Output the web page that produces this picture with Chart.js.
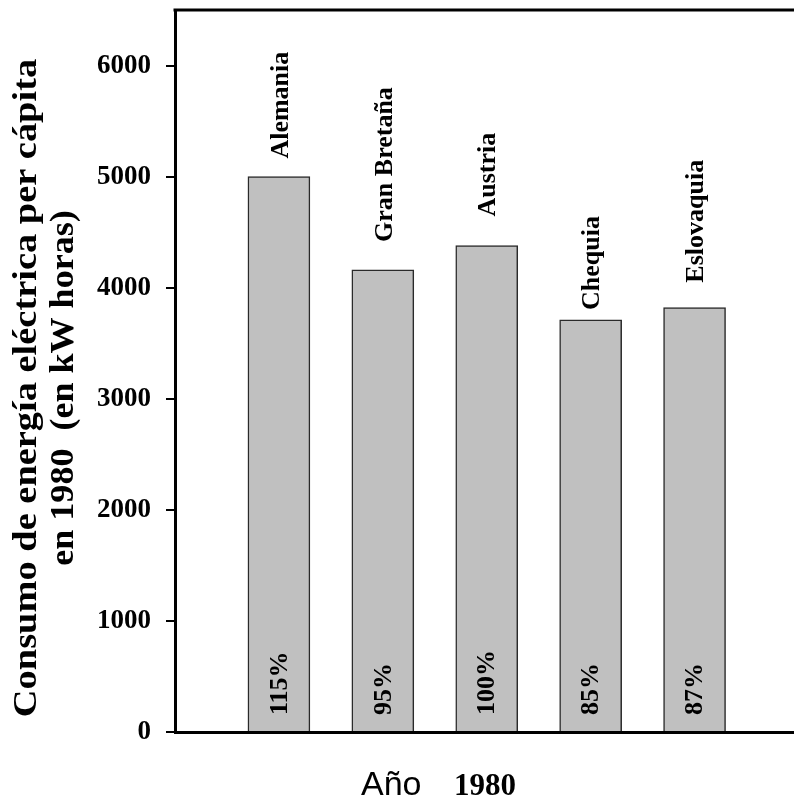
<!DOCTYPE html>
<html><head><meta charset="utf-8">
<script src="https://cdn.jsdelivr.net/npm/chart.js@4"></script>
<style>html,body{margin:0;padding:0;background:#fff}#wrap{width:794px;height:797px}</style>
</head><body><div id="wrap"><canvas id="c" width="794" height="797"></canvas></div>
<script>
const categories = ['Alemania', 'Gran Bretaña', 'Austria', 'Chequia', 'Eslovaquia'];
const consumo = [5000, 4160, 4380, 3710, 3820];
const porcentajes = ['115%', '95%', '100%', '85%', '87%'];
const yTickValues = [0, 1000, 2000, 3000, 4000, 5000, 6000];
const yTitle = ['Consumo de energía eléctrica per cápita', 'en 1980  (en kW horas)'];
const xTitleWord = 'Año';
const xTitleYear = '1980';

const serif = '"Liberation Serif", "Times New Roman", serif';
const sans = '"Liberation Sans", Arial, sans-serif';

const barLabels = {
  id: 'barLabels',
  afterDatasetsDraw(chart, args, opts) {
    const ctx = chart.ctx;
    const meta = chart.getDatasetMeta(0);
    const y0 = chart.scales.y.getPixelForValue(0);
    ctx.save();
    ctx.fillStyle = '#000';
    ctx.font = 'bold 26px ' + serif;
    ctx.textBaseline = 'middle';
    ctx.textAlign = 'left';
    meta.data.forEach((bar, i) => {
      ctx.save();
      ctx.translate(bar.x + 2, bar.y - opts.gaps[i]);
      ctx.rotate(-Math.PI / 2);
      ctx.fillText(categories[i], 0, 0);
      ctx.restore();
      ctx.save();
      ctx.translate(bar.x + 1, y0 - 17);
      ctx.rotate(-Math.PI / 2);
      ctx.fillText(porcentajes[i], 0, 0);
      ctx.restore();
    });
    ctx.restore();
  }
};

const frameAndTitles = {
  id: 'frameAndTitles',
  afterDraw(chart) {
    const ctx = chart.ctx;
    const a = chart.chartArea;
    ctx.save();
    ctx.strokeStyle = '#000';
    ctx.lineWidth = 3;
    ctx.beginPath();
    ctx.moveTo(a.left - 1.5, a.top);
    ctx.lineTo(chart.width, a.top);
    ctx.stroke();
    ctx.fillStyle = '#000';
    ctx.font = 'bold 34px ' + serif;
    ctx.textAlign = 'center';
    ctx.textBaseline = 'alphabetic';
    const cy = 388;
    [[36, yTitle[0], 1.13], [73, yTitle[1], 1.06]].forEach(([x, t, sx]) => {
      ctx.save();
      ctx.translate(x, cy);
      ctx.rotate(-Math.PI / 2);
      ctx.scale(sx, 1);
      ctx.fillText(t, 0, 0);
      ctx.restore();
    });
    ctx.textAlign = 'left';
    ctx.font = '34px ' + sans;
    ctx.fillText(xTitleWord, 361, 795);
    ctx.font = 'bold 31px ' + serif;
    ctx.fillText(xTitleYear, 454, 795);
    ctx.restore();
  }
};

new Chart(document.getElementById('c'), {
  type: 'bar',
  data: {
    datasets: [{
      data: categories.map((c, i) => ({ x: i, y: consumo[i] })),
      backgroundColor: '#c0c0c0',
      borderColor: '#2a2a2a',
      borderWidth: 1.5,
      barThickness: 62
    }]
  },
  options: {
    responsive: false,
    animation: false,
    devicePixelRatio: 1,
    layout: { padding: { top: 10, left: 0, right: 0, bottom: 0 } },
    plugins: {
      legend: { display: false },
      tooltip: { enabled: false },
      barLabels: { gaps: [18, 28, 29, 10, 25] }
    },
    scales: {
      x: {
        type: 'linear', min: -1, max: 4.957, offset: false,
        ticks: { display: false },
        grid: { display: true, drawOnChartArea: false, drawTicks: false },
        border: { display: true, color: '#000', width: 3 },
        afterFit(s) { s.height = 65; s.paddingLeft = 0; s.paddingRight = 0; }
      },
      y: {
        min: 0, max: 6500,
        afterBuildTicks(s) { s.ticks = yTickValues.map(v => ({ value: v })); },
        ticks: { color: '#000', padding: 15, callback: v => String(v),
                 font: { family: serif, size: 27, weight: 'bold' } },
        grid: { drawOnChartArea: false, drawTicks: true, tickLength: 9, color: '#000', lineWidth: 2 },
        border: { display: true, color: '#000', width: 3 },
        afterFit(s) { s.width = 175; s.paddingTop = 0; s.paddingBottom = 0; }
      }
    }
  },
  plugins: [barLabels, frameAndTitles]
});
</script>
</body></html>
